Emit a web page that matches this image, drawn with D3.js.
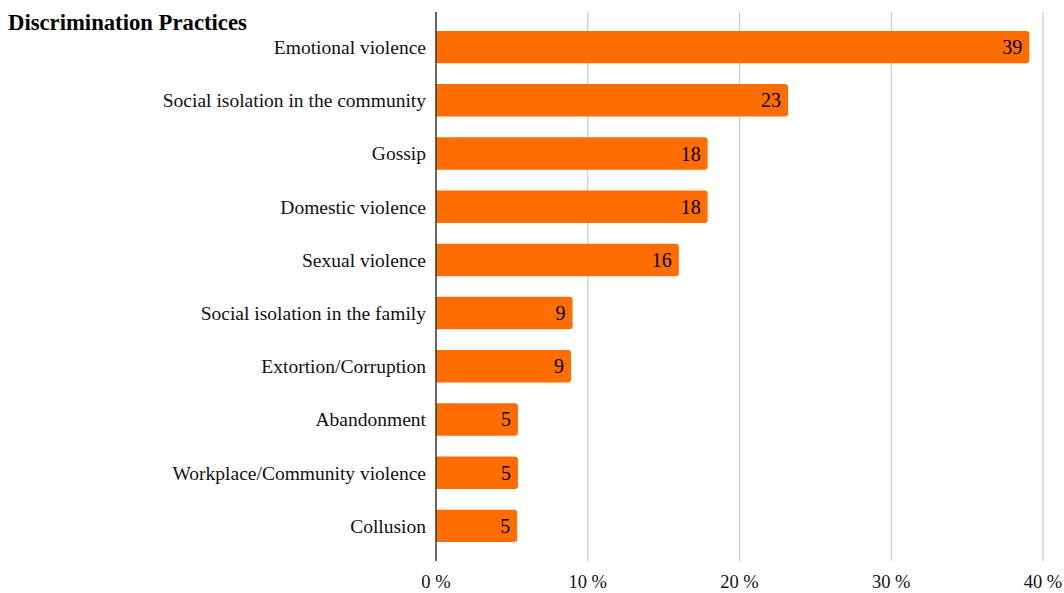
<!DOCTYPE html>
<html>
<head>
<meta charset="utf-8">
<script src="https://cdn.jsdelivr.net/npm/d3@7"></script>
<style>
  body { margin: 0; background: #fff; }
  text { font-family: "Liberation Serif", "Times New Roman", serif; }
</style>
</head>
<body>
<div id="chart"></div>
<script>
var categories = ['Emotional violence', 'Social isolation in the community', 'Gossip',
    'Domestic violence', 'Sexual violence', 'Social isolation in the family',
    'Extortion/Corruption', 'Abandonment', 'Workplace/Community violence', 'Collusion'
];
var values = [39.1, 23.2, 17.9, 17.9, 16.0, 9.0, 8.9, 5.4, 5.4, 5.35];
var valueLabels = ['39', '23', '18', '18', '16', '9', '9', '5', '5', '5'];
var xTicks = [0, 10, 20, 30, 40];

var width = 1064, height = 593;
var margin = { top: 12, right: 21, bottom: 32, left: 436 };

var svg = d3.select("#chart").append("svg")
    .attr("width", width)
    .attr("height", height);

var xScale = d3.scaleLinear()
    .domain([0, 40])
    .range([margin.left, width - margin.right]);

var yScale = d3.scaleBand()
    .domain(categories)
    .range([margin.top, height - margin.bottom])
    .paddingInner(0.39)
    .paddingOuter(0.355);

// gridlines
svg.append("g").selectAll("line")
    .data(xTicks.slice(1)).enter()
    .append("line")
    .attr("x1", function(d) { return xScale(d); })
    .attr("x2", function(d) { return xScale(d); })
    .attr("y1", margin.top)
    .attr("y2", height - margin.bottom)
    .attr("stroke", "#cccccc")
    .attr("stroke-width", 1.2);

// bars, rounded on the right end only
var r = 3;
svg.append("g").selectAll("path")
    .data(categories).enter()
    .append("path")
    .attr("fill", "#ff6d00")
    .attr("d", function(d, i) {
        var x0 = xScale(0), x1 = xScale(values[i]);
        var y0 = yScale(d), h = yScale.bandwidth();
        return "M" + x0 + "," + y0 +
            "H" + (x1 - r) +
            "Q" + x1 + "," + y0 + " " + x1 + "," + (y0 + r) +
            "V" + (y0 + h - r) +
            "Q" + x1 + "," + (y0 + h) + " " + (x1 - r) + "," + (y0 + h) +
            "H" + x0 + "Z";
    });

// value labels
svg.append("g").selectAll("text")
    .data(categories).enter()
    .append("text")
    .attr("x", function(d, i) { return xScale(values[i]) - 7; })
    .attr("y", function(d) { return yScale(d) + yScale.bandwidth() / 2; })
    .attr("dy", "0.35em")
    .attr("text-anchor", "end")
    .attr("font-size", 20)
    .attr("fill", "#000")
    .text(function(d, i) { return valueLabels[i]; });

// category labels
svg.append("g").selectAll("text")
    .data(categories).enter()
    .append("text")
    .attr("x", margin.left - 10)
    .attr("y", function(d) { return yScale(d) + yScale.bandwidth() / 2; })
    .attr("dy", "0.35em")
    .attr("text-anchor", "end")
    .attr("font-size", 19.5)
    .attr("fill", "#111")
    .text(function(d) { return d; });

// x tick labels
svg.append("g").selectAll("text")
    .data(xTicks).enter()
    .append("text")
    .attr("x", function(d) { return xScale(d); })
    .attr("y", 588)
    .attr("text-anchor", "middle")
    .attr("font-size", 18.5)
    .attr("fill", "#111")
    .text(function(d) { return d + " %"; });

// y axis line
svg.append("line")
    .attr("x1", xScale(0)).attr("x2", xScale(0))
    .attr("y1", margin.top).attr("y2", height - margin.bottom)
    .attr("stroke", "#333")
    .attr("stroke-width", 1.5);

// title
svg.append("text")
    .attr("x", 8)
    .attr("y", 30)
    .attr("font-size", 22.7)
    .attr("font-weight", "bold")
    .attr("fill", "#000")
    .text("Discrimination Practices");
</script>
</body>
</html>
